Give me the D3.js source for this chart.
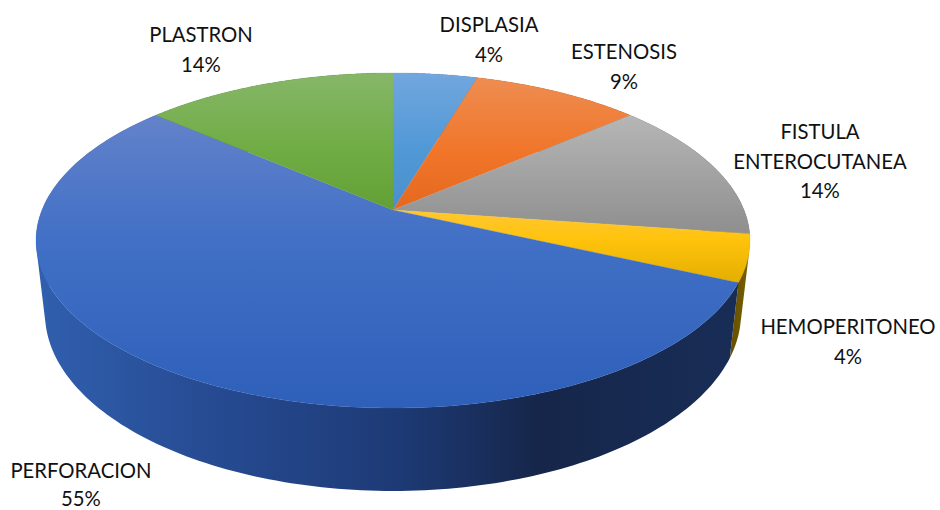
<!DOCTYPE html>
<html><head><meta charset="utf-8">
<script src="https://cdn.jsdelivr.net/npm/d3@7"></script>
<style>html,body{margin:0;padding:0;background:#fff}svg{display:block}text{font-family:Lato,"Open Sans",sans-serif;font-size:20.3px;fill:#111}</style>
</head><body><svg id="c" width="940" height="510"></svg>
<script>
const categories = ["DISPLASIA","ESTENOSIS","FISTULA ENTEROCUTANEA","HEMOPERITONEO","PERFORACION","PLASTRON"];
const counts = [1,2,3,1,12,3];
const percentLabels = ["4%","9%","14%","4%","55%","14%"];

// presentation only
const labelLines = [["DISPLASIA"],["ESTENOSIS"],["FISTULA","ENTEROCUTANEA"],["HEMOPERITONEO"],["PERFORACION"],["PLASTRON"]];
const labelAnchors = [[489,32],[624,59],[820,139],[848,334],[81,477.5],[201,42]];
const topStops = [
 [[73,"#72a6de"],[150,"#5099d6"],[210,"#4a90cb"]],
 [[77,"#ee8d52"],[150,"#f1762a"],[210,"#e4691e"]],
 [[116,"#b6b6b6"],[235,"#8e8e8e"]],
 [[210,"#ffc732"],[240,"#ffc30c"],[285,"#e2ad00"]],
 [[116,"#6382ca"],[240,"#4170c6"],[408,"#2e5fb9"]],
 [[73,"#86b769"],[150,"#70ac44"],[210,"#62a035"]]];
const wallStops = [
 [[393,"#555"],[750,"#555"]],[[393,"#7d3d10"],[750,"#7d3d10"]],[[393,"#555"],[750,"#555"]],
 [[725,"#5e4a00"],[750,"#7a6000"]],
 [[40,"#305fae"],[200,"#274c94"],[400,"#1d3a75"],[540,"#16264a"],[735,"#182d56"]],
 [[36,"#3a6020"],[393,"#3a6020"]]];

const svg = d3.select("#c");
const defs = svg.append("defs");
const pie = d3.pie().sort(null).startAngle(0).endAngle(2*Math.PI);
const arcs = pie(counts);

const K = 0.182, SX = 351, SY = 162;
const xS = d3.scaleLinear().domain([-1,1]).range([-SX,SX]);
const yS = d3.scaleLinear().domain([-1,1]).range([-SY,SY]);
const topDisc = {cx:393, cy:210, sx:1, sy:1};
const botDisc = {cx:393, cy:281, sx:0.975, sy:1.06};
function project(disc, a){
  const X = Math.sin(a), Y = -Math.cos(a), w = 1-K*Y;
  return [disc.cx + disc.sx*xS(X)/w, disc.cy + disc.sy*yS(Y)/w];
}
const samples = d => d3.range(0,181).map(i => d.startAngle + (d.endAngle-d.startAngle)*i/180);
const line = d3.line();

function grad(id, stops, vertical){
  const lo = stops[0][0], hi = stops[stops.length-1][0];
  const g = defs.append("linearGradient").attr("id",id).attr("gradientUnits","userSpaceOnUse");
  if(vertical) g.attr("x1",0).attr("x2",0).attr("y1",lo).attr("y2",hi);
  else g.attr("y1",0).attr("y2",0).attr("x1",lo).attr("x2",hi);
  g.selectAll("stop").data(stops).join("stop")
   .attr("offset",s=>(s[0]-lo)/(hi-lo)).attr("stop-color",s=>s[1]);
}
arcs.forEach((d,i)=>{grad("t"+i,topStops[i],true);grad("w"+i,wallStops[i],false);});

// Wall of each slice: a union of same-winding quads between the two discs
function wallPath(d){
  const s = samples(d); let out = "";
  for(let i=0;i<s.length-1;i++){
    let q=[project(topDisc,s[i]),project(topDisc,s[i+1]),project(botDisc,s[i+1]),project(botDisc,s[i])];
    if(d3.polygonArea(q)<0) q.reverse();
    out += line(q)+"Z";
  }
  return out;
}
svg.append("g").selectAll("path").data(arcs).join("path")
  .attr("fill",(d,i)=>`url(#w${i})`).attr("d",wallPath);

svg.append("g").selectAll("path").data(arcs).join("path")
  .attr("fill",(d,i)=>`url(#t${i})`)
  .attr("stroke",(d,i)=>`url(#t${i})`).attr("stroke-width",0.3)
  .attr("d",d=>line([[topDisc.cx,topDisc.cy]].concat(samples(d).map(a=>project(topDisc,a))))+"Z");

const lab = svg.append("g").selectAll("text").data(categories).join("text")
  .attr("text-anchor","middle")
  .attr("x",(d,i)=>labelAnchors[i][0]).attr("y",(d,i)=>labelAnchors[i][1]);
lab.each(function(d,i){
  const t=d3.select(this), x=labelAnchors[i][0];
  labelLines[i].concat(percentLabels[i]).forEach((l,j)=>t.append("tspan").attr("x",x).attr("dy",j?(i===4?28:29.5):0).text(l));
});
</script></body></html>
